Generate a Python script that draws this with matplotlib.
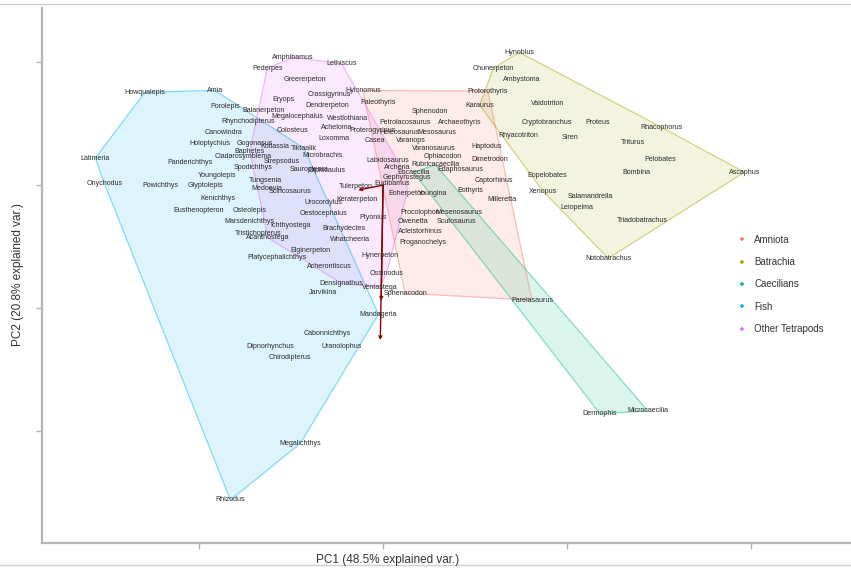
import numpy as np
import matplotlib
matplotlib.use("Agg")
import matplotlib.pyplot as plt
from matplotlib.lines import Line2D

# ---- group definitions -------------------------------------------------
groups = ["Amniota", "Batrachia", "Caecilians", "Fish", "Other Tetrapods"]
group_colors = ["#F8766D", "#A3A500", "#00BF7D", "#00B0F6", "#E76BF3"]

# ---- PCA scores per group ---------------------------------------------
amniota_taxa = ["Hylonomus", "Paleothyris", "Protorothyris", "Sphenodon", "Petrolacosaurus",
                "Archaeothyris", "Heleosaurus", "Mesosaurus", "Varanosaurus", "Haptodus",
                "Ophiacodon", "Dimetrodon", "Edaphosaurus", "Captorhinus", "Youngina",
                "Eothyris", "Milleretta", "Procolophon", "Mesenosaurus", "Owenetta",
                "Scutosaurus", "Proganochelys", "Labidosaurus", "Eudibamus", "Pareiasaurus",
                "Casea", "Varanops", "Acleistorhinus", "Sphenacodon"]
amniota_pc1 = [-0.22, -0.05, 1.14, 0.51, 0.24, 0.84, 0.18, 0.59, 0.55, 1.13,
               0.65, 1.16, 0.84, 1.20, 0.54, 0.95, 1.29, 0.40, 0.82, 0.33,
               0.80, 0.43, 0.05, 0.10, 1.62, -0.09, 0.30, 0.40, 0.24]
amniota_pc2 = [1.54, 1.35, 1.53, 1.19, 1.02, 1.01, 0.85, 0.85, 0.60, 0.63,
               0.46, 0.42, 0.26, 0.07, -0.13, -0.08, -0.24, -0.44, -0.44, -0.60,
               -0.60, -0.94, 0.40, 0.02, -1.87, 0.73, 0.72, -0.76, -1.76]

batrachia_taxa = ["Hynobius", "Chunerpeton", "Ambystoma", "Karaurus", "Valdotriton",
                  "Cryptobranchus", "Proteus", "Rhacophorus", "Rhyacotriton", "Siren",
                  "Triturus", "Pelobates", "Eopelobates", "Bombina", "Ascaphus",
                  "Xenopus", "Salamandrella", "Leiopelma", "Triadobatrachus", "Notobatrachus"]
batrachia_pc1 = [1.48, 1.20, 1.51, 1.05, 1.79, 1.78, 2.34, 3.03, 1.47, 2.03,
                 2.72, 3.01, 1.79, 2.76, 3.93, 1.74, 2.25, 2.11, 2.82, 2.45]
batrachia_pc2 = [2.16, 1.90, 1.72, 1.30, 1.33, 1.01, 1.02, 0.94, 0.81, 0.78,
                 0.70, 0.42, 0.16, 0.21, 0.21, -0.10, -0.18, -0.37, -0.57, -1.19]

caecilian_taxa = ["Eocaecilia", "Rubricacaecilia", "Dermophis", "Microcaecilia"]
caecilian_pc1 = [0.33, 0.57, 2.36, 2.88]
caecilian_pc2 = [0.21, 0.33, -3.72, -3.67]

fish_taxa = ["Latimeria", "Onychodus", "Howqualepis", "Amia", "Porolepis",
             "Rhynchodipterus", "Canowindra", "Holoptychius", "Gogonasus", "Panderichthys",
             "Cladarosymblema", "Spodichthys", "Youngolepis", "Powichthys", "Glyptolepis",
             "Medoevia", "Kenichthys", "Eusthenopteron", "Osteolepis", "Marsdenichthys",
             "Tristichopterus", "Platycephalichthys", "Jarvikina", "Mandageria", "Cabonnichthys",
             "Dipnorhynchus", "Uranolophus", "Chirodipterus", "Megalichthys", "Rhizodus",
             "Tungsenia", "Strepsodus", "Tiktaalik"]
fish_pc1 = [-3.13, -3.03, -2.59, -1.83, -1.72, -1.47, -1.74, -1.88, -1.39, -2.10,
            -1.52, -1.41, -1.80, -2.42, -1.93, -1.26, -1.80, -2.01, -1.45, -1.45,
            -1.36, -1.15, -0.65, -0.05, -0.61, -1.23, -0.45, -1.01, -0.90, -1.66,
            -1.28, -1.10, -0.86]
fish_pc2 = [0.44, 0.02, 1.51, 1.54, 1.28, 1.04, 0.86, 0.68, 0.68, 0.37,
            0.46, 0.29, 0.16, 0.00, 0.00, -0.05, -0.21, -0.42, -0.41, -0.60,
            -0.78, -1.17, -1.74, -2.10, -2.41, -2.62, -2.62, -2.80, -4.20, -5.12,
            0.08, 0.38, 0.60]

other_taxa = ["Amphibamus", "Pederpes", "Lethiscus", "Greererpeton", "Crassigyrinus",
              "Eryops", "Dendrerpeton", "Megalocephalus", "Westlothiana", "Colosteus",
              "Acheloma", "Loxomma", "Kotlassia", "Microbrachis", "Sauropleura",
              "Diplocaulus", "Scincosaurus", "Urocordylus", "Oestocephalus", "Tulerpeton",
              "Ichthyostega", "Acanthostega", "Ventastega", "Densignathus", "Hynerpeton",
              "Whatcheeria", "Baphetes", "Balanerpeton", "Ossinodus", "Elginerpeton",
              "Keraterpeton", "Ptyonius", "Brachydectes", "Acherontiscus", "Proterogyrinus",
              "Archeria", "Gephyrostegus", "Eoherpeton"]
other_pc1 = [-0.98, -1.26, -0.45, -0.85, -0.58, -1.08, -0.61, -0.93, -0.39, -0.98,
             -0.50, -0.54, -1.18, -0.66, -0.80, -0.61, -1.01, -0.65, -0.65, -0.30,
             -1.01, -1.25, -0.04, -0.45, -0.03, -0.36, -1.45, -1.30, 0.04, -0.79,
             -0.28, -0.11, -0.43, -0.58, -0.11, 0.15, 0.26, 0.26]
other_pc2 = [2.08, 1.90, 1.97, 1.72, 1.48, 1.40, 1.30, 1.11, 1.09, 0.89,
             0.94, 0.75, 0.62, 0.48, 0.26, 0.24, -0.11, -0.29, -0.46, -0.03,
             -0.65, -0.86, -1.66, -1.60, -1.14, -0.89, 0.54, 1.22, -1.43, -1.06,
             -0.24, -0.52, -0.70, -1.33, 0.89, 0.29, 0.13, -0.13]

# variable loadings (biplot arrows)
loading_pc1 = [-0.03, -0.02, -0.27]
loading_pc2 = [-2.52, -1.88, -0.08]

# axis ticks
x_ticks = [-2, 0, 2, 4]
y_ticks = [-4, -2, 0, 2]

group_data = [
    (amniota_taxa, amniota_pc1, amniota_pc2),
    (batrachia_taxa, batrachia_pc1, batrachia_pc2),
    (caecilian_taxa, caecilian_pc1, caecilian_pc2),
    (fish_taxa, fish_pc1, fish_pc2),
    (other_taxa, other_pc1, other_pc2),
]
fill_alpha = [0.14, 0.12, 0.14, 0.13, 0.14]


def convex_hull(xs, ys):
    pts = sorted(set(zip(xs, ys)))
    if len(pts) < 3:
        return pts

    def cross(o, a, b):
        return (a[0] - o[0]) * (b[1] - o[1]) - (a[1] - o[1]) * (b[0] - o[0])

    lower, upper = [], []
    for p in pts:
        while len(lower) >= 2 and cross(lower[-2], lower[-1], p) <= 0:
            lower.pop()
        lower.append(p)
    for p in reversed(pts):
        while len(upper) >= 2 and cross(upper[-2], upper[-1], p) <= 0:
            upper.pop()
        upper.append(p)
    return lower[:-1] + upper[:-1]


plt.rcParams["font.family"] = ["Liberation Sans", "DejaVu Sans"]

fig = plt.figure(figsize=(8.51, 5.68), dpi=100)
ax = fig.add_axes([42 / 851, 25 / 568, 809 / 851, 535 / 568])

# hulls
for (taxa, pc1, pc2), col, a in zip(group_data, group_colors, fill_alpha):
    hull = convex_hull(pc1, pc2)
    hx = [p[0] for p in hull]
    hy = [p[1] for p in hull]
    ax.fill(hx, hy, facecolor=col, alpha=a, edgecolor="none", zorder=1)
    ax.fill(hx, hy, facecolor="none", edgecolor=col, alpha=0.45, lw=0.9, zorder=2)

# loading arrows
for lx, ly in zip(loading_pc1, loading_pc2):
    ax.annotate("", xy=(lx, ly), xytext=(0, 0),
                arrowprops=dict(arrowstyle="->", color="#8b0000", lw=1.0,
                                mutation_scale=5, shrinkA=0, shrinkB=0),
                zorder=3)

# taxon labels
for taxa, pc1, pc2 in group_data:
    for name, x, y in zip(taxa, pc1, pc2):
        ax.text(x, y, name, fontsize=5.1, color="#2b2b2b",
                ha="center", va="center", zorder=4)

ax.set_xlim(-3.71, 5.09)
ax.set_ylim(-5.82, 2.88)
ax.set_xticks(x_ticks)
ax.set_yticks(y_ticks)
ax.set_xticklabels([])
ax.set_yticklabels([])
ax.tick_params(colors="#b5b5b5", length=4, width=1)
for s in ["top", "right"]:
    ax.spines[s].set_visible(False)
for s in ["left", "bottom"]:
    ax.spines[s].set_color("#b5b5b5")
    ax.spines[s].set_linewidth(1.6)

fig.text(388 / 851, 1 - 560 / 568, "PC1 (48.5% explained var.)",
         ha="center", va="center", fontsize=8.5, color="#333333")
fig.text(18 / 851, 1 - 275 / 568, "PC2 (20.8% explained var.)",
         ha="center", va="center", rotation=90, fontsize=8.5, color="#333333")

# legend
handles = [Line2D([0], [0], marker="+", linestyle="none", color=c,
                  markersize=3.5, markeredgewidth=1.1) for c in group_colors]
fig.legend(handles, groups, loc="upper left",
           bbox_to_anchor=(728 / 851, 1 - 226 / 568), frameon=False,
           fontsize=7, labelcolor="#333333", handletextpad=0.8,
           labelspacing=1.27, handlelength=1.0)

# page border lines
fig.add_artist(Line2D([0, 1], [1 - 4 / 568, 1 - 4 / 568], color="#cfcfcf", lw=1,
                      transform=fig.transFigure))
fig.add_artist(Line2D([0, 1], [1 - 565 / 568, 1 - 565 / 568], color="#cfcfcf", lw=1,
                      transform=fig.transFigure))

fig.savefig("out.png", dpi=100)
